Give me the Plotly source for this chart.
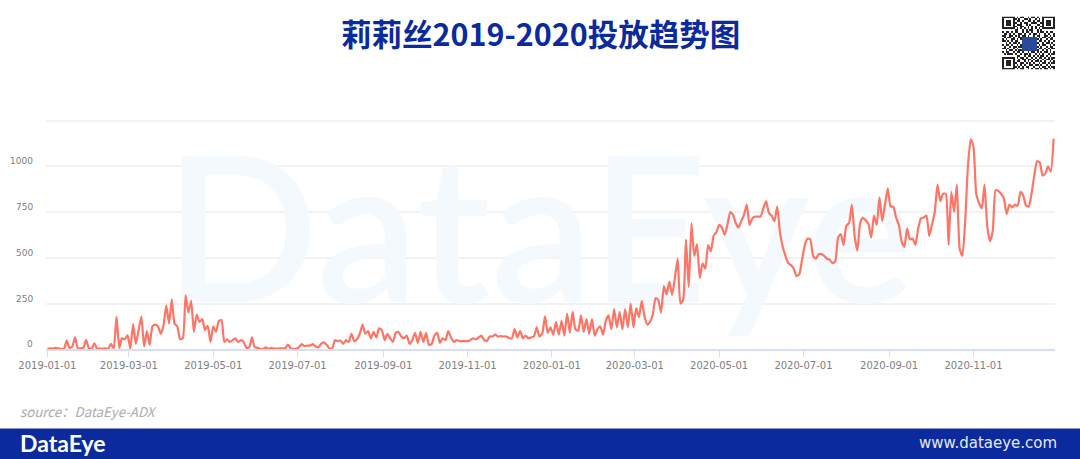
import pandas as pd
import plotly.graph_objects as go

TITLE = "莉莉丝2019-2020投放趋势图"
SOURCE = "source：DataEye-ADX"
FOOT_LEFT = "DataEye"
FOOT_RIGHT = "www.dataeye.com"
START_DATE = "2019-01-01"
STEP_DAYS = 2

values_2019a = [3,5,4,8,5,2,3,47,8,15,65,5,5,8,52,6,4,33,3,4,3,5,3,30,5,178,8,60,55,76,5,138,30,105,178,15,100,25,125,135,125,85,130,240,140,273,140,125,55,60,295,200,265,95,190,150,165,105,130,40,125,95,155,160,40,55,40,50,60,40,50,40,8,10,65,12,8,3,2,10,3,8,4,4,5,5,5,25,5,2,3,12,28,18,20,20,28,15,10,30,38,25,5,3,50,45,48,30,50,40,85,45,55]
values_2019b = [85,135,85,100,60,95,65,115,105,50,85,60,40,90,95,70,60,75,30,50,90,35,95,40,90,25,28,75,90,35,60,50,100,65,40,50,45,45,45,45,50,60,55,65,75,50,45,70,70,80,70,72,70,70,62,60,110,65,100,60,75,60,65,70,120,70,85,180,90,120,80,150,80,155,75,195,90,205,110,100,185,95,165,85,165,75,110,125,80,155,185,110,220,120,205,110,220,120,250,120,225,175,265,180,135,150,190,280,270,200,345,300,370,297,390,495,250,270,600,340,688,510,575,390,470,440,570,535,620,640]
values_2020b = [680,665,625,680,750,735,690,665,700,735,790,680,715,725,725,725,770,810,745,730,700,780,640,560,510,470,460,440,400,410,490,570,605,600,510,495,520,520,510,495,490,470,480,610,630,570,675,690,790,620,540,690,720,705,685,610,730,680,830,700,790,880,780,780,720,680,590,560,660,600,605,570,660,715,720,730,620,680,750,900,810,850,850,570,860,750,900,550,510,700,1000,1147,1110,850,800,770,900,670,590,650,870,865,850,825,740,790,775,790,785,860,840,785,780,850,950,1028,1020,950,960,1000,970,1150]
series_values = values_2019a + values_2019b + values_2020b
dates = pd.date_range(START_DATE, periods=len(series_values), freq=f"{STEP_DAYS}D")

x_ticks = ["2019-01-01","2019-03-01","2019-05-01","2019-07-01","2019-09-01","2019-11-01",
           "2020-01-01","2020-03-01","2020-05-01","2020-07-01","2020-09-01","2020-11-01"]
y_ticks = [0, 250, 500, 750, 1000]
y_grid = [0, 250, 500, 750, 1000, 1250]

qr_rows = [
"11111110101100101101001111111",
"10000011010011010010101000001",
"10111010110100110101101011101",
"10111011001011001110011011101",
"10111010111001010001101011101",
"10000011001100101010011000001",
"11111110101010101010101111111",
"00000001100101011001010000000",
"10110101100101101001011010110",
"01101010011010010110100101001",
"11001101010110100101100110101",
"01011010011222222220101101010",
"10100110101222222221010010110",
"11010101100222222220110101001",
"00101011010222222221001011010",
"10110100101222222220101100101",
"01001011011222222221010010110",
"11010010100222222220110101011",
"00101101011222222221001010100",
"10110010110100101101010110101",
"01011101001011010010101001011",
"00000000110010110101011010100",
"11111110101101001010110101011",
"10000010010110110101001011010",
"10111010110010101011010100101",
"10111011001101010100101101011",
"10111010101010011011010010100",
"10000011010101100100101101011",
"11111110101100101011010110101",
]
qr_z = [[int(c) for c in r] for r in qr_rows]

W, H = 1080, 459
BLUE = "#0a2a9e"
px = lambda v: v / W
py = lambda v: 1 - v / H

fig = go.Figure()
fig.add_trace(go.Scatter(x=["2019-12-23"], y=[535], mode="text", text=["DataEye"],
    textposition="middle center", cliponaxis=False, hoverinfo="skip",
    textfont=dict(family="Lato", size=203, color="#f4f9fd", weight=600), showlegend=False))
fig.add_trace(go.Scatter(x=dates, y=series_values, mode="lines",
    line=dict(color="#ff7565", width=2.2, shape="spline", smoothing=0.5), showlegend=False))
fig.add_trace(go.Heatmap(z=qr_z, xaxis="x2", yaxis="y2", showscale=False, hoverinfo="skip",
    zmin=0, zmax=2, colorscale=[[0, "#ffffff"], [0.5, "#222222"], [1, "#2c4a9c"]]))

annos = [
    dict(text=f"<b>{TITLE}</b>", x=px(540), y=py(33), xref="paper", yref="paper", showarrow=False,
         xanchor="center", yanchor="middle", font=dict(family="Noto Sans CJK SC", size=30.5, color=BLUE)),
    dict(text=f"<i>{SOURCE}</i>", x=px(18), y=py(411), xref="paper", yref="paper", showarrow=False,
         xanchor="left", yanchor="middle", font=dict(family="Noto Sans CJK SC", size=13.3, color="#acacac")),
    dict(text=f"<b>{FOOT_LEFT}</b>", x=px(18), y=py(443), xref="paper", yref="paper", showarrow=False,
         xanchor="left", yanchor="middle", font=dict(family="Lato", size=23, color="#ffffff")),
    dict(text=FOOT_RIGHT, x=px(1059), y=py(443), xref="paper", yref="paper", showarrow=False,
         xanchor="right", yanchor="middle", font=dict(family="DejaVu Sans", size=15, color="#e4e8f5")),
]
for v in y_ticks:
    annos.append(dict(text=str(v), x=px(35), y=v, yshift=5, xref="paper", yref="y", showarrow=False,
                      xanchor="right", yanchor="middle", font=dict(family="DejaVu Sans", size=9, color="#808080")))

fig.update_layout(
    width=W, height=H, margin=dict(l=0, r=0, t=0, b=0, pad=0, autoexpand=False),
    paper_bgcolor="#ffffff", plot_bgcolor="rgba(0,0,0,0)", showlegend=False,
    annotations=annos,
    shapes=[dict(type="rect", xref="paper", yref="paper", x0=0, x1=1, y0=0, y1=py(428.5),
                 fillcolor=BLUE, line_width=0, layer="below")],
    xaxis=dict(domain=[px(46), px(1055)], type="date", range=["2018-12-31", "2020-12-30"],
               tickvals=x_ticks, ticktext=x_ticks, showgrid=False, zeroline=False,
               showline=True, linecolor="#d8e0f0", linewidth=1.5, ticks="outside", ticklen=6,
               tickcolor="#d8e0f0", tickfont=dict(family="DejaVu Sans", size=10, color="#808080")),
    yaxis=dict(domain=[py(349.3), py(118.67)], range=[0, 1260], tickvals=y_grid, showticklabels=False,
               gridcolor="#f1f2f4", gridwidth=1.5, zeroline=False, showline=False),
    xaxis2=dict(domain=[px(1002), px(1055)], anchor="y2", visible=False, fixedrange=True),
    yaxis2=dict(domain=[py(69.5), py(16.5)], anchor="x2", visible=False, autorange="reversed", fixedrange=True),
)
fig.write_html("out.html", config=dict(displayModeBar=False),
               post_script="document.body.style.margin='0';document.body.style.overflow='hidden';")
